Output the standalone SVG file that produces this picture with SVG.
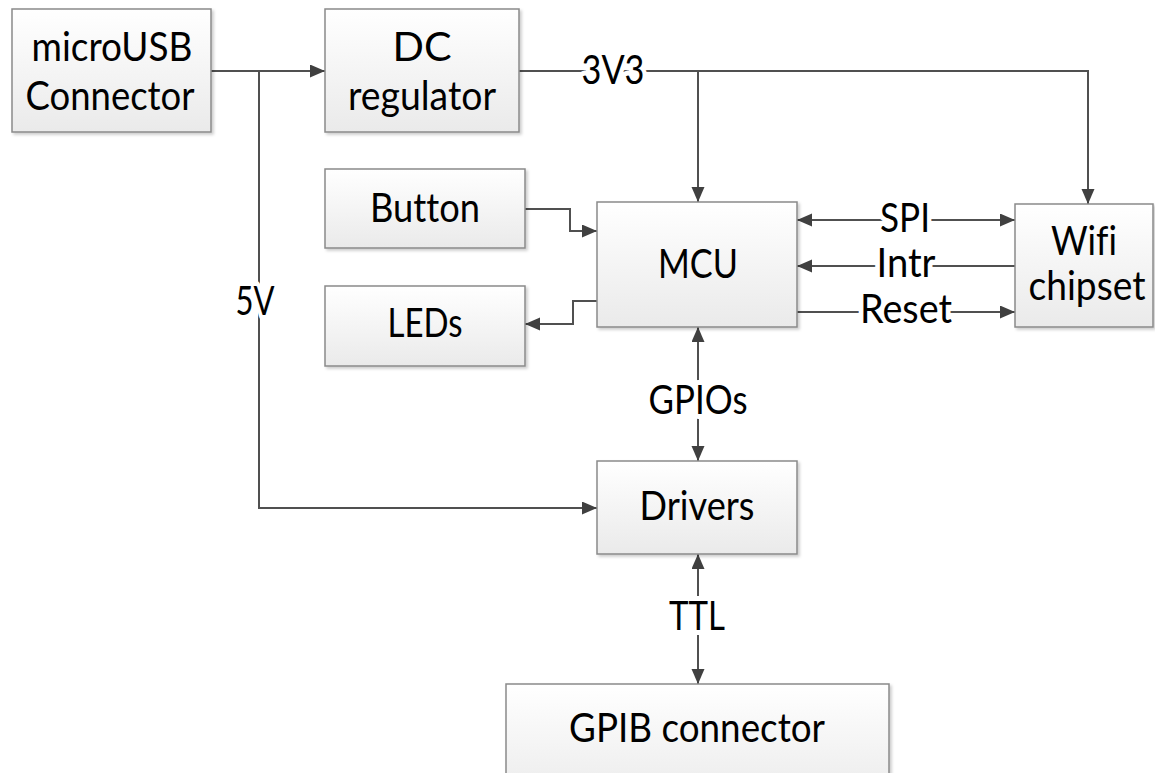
<svg xmlns="http://www.w3.org/2000/svg" width="1155" height="773" viewBox="0 0 1155 773">
  <style>
    .box { fill: url(#g); stroke: #8a8a8a; stroke-width: 1.5; filter: url(#sh); }
    .t { font-family: Lato, "Liberation Sans", sans-serif; font-size: 40px; fill: #000; text-anchor: middle; font-variant-ligatures: none; }
    .lbl { font-family: Lato, "Liberation Sans", sans-serif; font-size: 40px; fill: #000; text-anchor: middle; stroke: #fff; stroke-width: 10; paint-order: stroke; stroke-linejoin: round; font-variant-ligatures: none; }
    .c { fill: none; stroke: #505050; stroke-width: 2; }
    .a { marker-end: url(#ah); }
    .b { marker-start: url(#ah); marker-end: url(#ah); }
  </style>
  <defs>
    <linearGradient id="g" x1="0" y1="0" x2="0" y2="1">
      <stop offset="0" stop-color="#ffffff"/>
      <stop offset="1" stop-color="#eaeaea"/>
    </linearGradient>
    <filter id="sh" x="-5%" y="-5%" width="115%" height="120%">
      <feDropShadow dx="2" dy="2" stdDeviation="1.5" flood-color="#000" flood-opacity="0.2"/>
    </filter>
    <marker id="ah" markerUnits="userSpaceOnUse" markerWidth="16" markerHeight="14" refX="15" refY="6.5" orient="auto-start-reverse">
      <path d="M0,0 L15,6.5 L0,13 z" fill="#404040"/>
    </marker>
  </defs>
  <rect width="1155" height="773" fill="#fff"/>

  <g id="connectors">
    <path class="c a" d="M211,71 H325"/>
    <path class="c a" d="M259,71 V508 H597"/>
    <path class="c a" d="M519,71 H1088 V204"/>
    <path class="c a" d="M698,71 V202"/>
    <path class="c a" d="M525,209 H570 V231 H597"/>
    <path class="c a" d="M597,301 H573 V324 H525"/>
    <path class="c b" d="M797,220 H1015"/>
    <path class="c a" d="M1015,266 H797"/>
    <path class="c a" d="M797,312 H1015"/>
    <path class="c b" d="M698,327 V461"/>
    <path class="c b" d="M698,554 V684"/>
    <text class="lbl" x="613" y="84" textLength="63" lengthAdjust="spacingAndGlyphs">3V3</text>
    <text class="lbl" x="255" y="315" textLength="39" lengthAdjust="spacingAndGlyphs">5V</text>
    <text class="lbl" x="905" y="232" textLength="50" lengthAdjust="spacingAndGlyphs">SPI</text>
    <text class="lbl" x="906" y="277" textLength="59" lengthAdjust="spacingAndGlyphs">Intr</text>
    <text class="lbl" x="906" y="323" textLength="92" lengthAdjust="spacingAndGlyphs">Reset</text>
    <text class="lbl" x="698" y="414" textLength="99" lengthAdjust="spacingAndGlyphs">GPIOs</text>
    <text class="lbl" x="697" y="630" textLength="56" lengthAdjust="spacingAndGlyphs">TTL</text>
  </g>

  <g id="microusb">
    <rect class="box" x="12" y="9" width="199" height="123"/>
    <text class="t" x="112" y="61" textLength="161" lengthAdjust="spacingAndGlyphs">microUSB</text>
    <text class="t" x="110" y="110" textLength="169" lengthAdjust="spacingAndGlyphs">Connector</text>
  </g>
  <g id="dc-regulator">
    <rect class="box" x="325" y="9" width="194" height="123"/>
    <text class="t" x="422" y="61" textLength="59" lengthAdjust="spacingAndGlyphs">DC</text>
    <text class="t" x="422" y="110" textLength="148" lengthAdjust="spacingAndGlyphs">regulator</text>
  </g>
  <g id="button">
    <rect class="box" x="325" y="169" width="200" height="79"/>
    <text class="t" x="425" y="222" textLength="110" lengthAdjust="spacingAndGlyphs">Button</text>
  </g>
  <g id="leds">
    <rect class="box" x="325" y="286" width="200" height="80"/>
    <text class="t" x="425" y="337" textLength="75" lengthAdjust="spacingAndGlyphs">LEDs</text>
  </g>
  <g id="mcu">
    <rect class="box" x="597" y="202" width="200" height="125"/>
    <text class="t" x="698" y="278" textLength="80" lengthAdjust="spacingAndGlyphs">MCU</text>
  </g>
  <g id="wifi">
    <rect class="box" x="1015" y="204" width="138" height="123"/>
    <text class="t" x="1084" y="255" textLength="66" lengthAdjust="spacingAndGlyphs">Wifi</text>
    <text class="t" x="1087" y="300" textLength="117" lengthAdjust="spacingAndGlyphs">chipset</text>
  </g>
  <g id="drivers">
    <rect class="box" x="597" y="461" width="200" height="93"/>
    <text class="t" x="697" y="520" textLength="115" lengthAdjust="spacingAndGlyphs">Drivers</text>
  </g>
  <g id="gpib">
    <rect class="box" x="506" y="684" width="383" height="120"/>
    <text class="t" x="697" y="742" textLength="256" lengthAdjust="spacingAndGlyphs">GPIB connector</text>
  </g>
</svg>
